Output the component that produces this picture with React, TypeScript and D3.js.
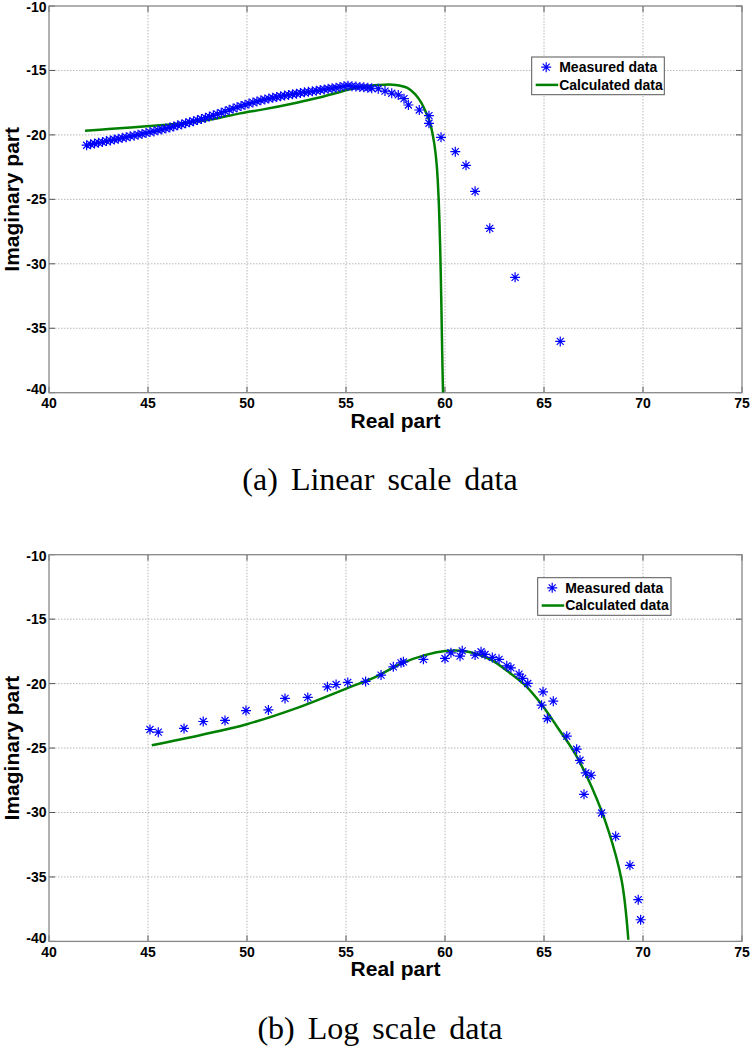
import React from 'react';
import * as d3 from 'd3';

const xTicks = [40, 45, 50, 55, 60, 65, 70, 75];
const yTicks = [-10, -15, -20, -25, -30, -35, -40];
const legendLabels = ['Measured data', 'Calculated data'];
const captions = ['(a) Linear scale data', '(b) Log scale data'];
const xLabel = 'Real part';
const yLabel = 'Imaginary part';

// (a) Linear scale data
const measuredLinX = [
  41.9, 42.1, 42.3, 42.5, 42.7, 42.9, 43.1, 43.3, 43.5, 43.7, 43.9, 44.1, 44.3, 44.5, 44.7, 44.9,
  45.1, 45.3, 45.5, 45.7, 45.9, 46.1, 46.3, 46.5, 46.7, 46.9, 47.1, 47.3, 47.5, 47.7, 47.9, 48.1,
  48.3, 48.5, 48.7, 48.9, 49.1, 49.3, 49.5, 49.7, 49.9, 50.1, 50.3, 50.5, 50.7, 50.9, 51.1, 51.3,
  51.5, 51.7, 51.9, 52.1, 52.3, 52.5, 52.7, 52.9, 53.1, 53.3, 53.5, 53.7, 53.9, 54.1, 54.3, 54.5,
  54.7, 54.9, 55.1, 55.3, 55.5, 55.7, 55.9, 56.1, 56.3, 56.63, 56.97, 57.31, 57.64, 57.93, 58.15,
  58.7, 59.19, 59.19, 59.8, 60.52, 61.06, 61.52, 62.26, 63.54, 65.82,
];
const measuredLinY = [
  -20.8, -20.73, -20.67, -20.6, -20.56, -20.48, -20.43, -20.36, -20.3, -20.23, -20.18, -20.1, -20.06, -19.98, -19.93, -19.86,
  -19.78, -19.73, -19.64, -19.58, -19.5, -19.43, -19.35, -19.26, -19.19, -19.1, -19.02, -18.94, -18.85, -18.77, -18.66, -18.58,
  -18.48, -18.39, -18.28, -18.18, -18.05, -17.96, -17.85, -17.76, -17.66, -17.57, -17.48, -17.41, -17.32, -17.25, -17.18, -17.12,
  -17.06, -17.0, -16.95, -16.9, -16.85, -16.8, -16.75, -16.7, -16.66, -16.62, -16.57, -16.52, -16.47, -16.42, -16.38, -16.34,
  -16.28, -16.22, -16.18, -16.22, -16.25, -16.28, -16.3, -16.34, -16.38, -16.42, -16.6, -16.77, -16.9, -17.19, -17.68,
  -18.07, -18.51, -19.1, -20.19, -21.3, -22.36, -24.38, -27.25, -31.05, -36.02,
];
const calcLinX = [41.82, 43.0, 44.93, 46.62, 48.3, 49.65, 50.82, 52.51, 53.6, 54.5, 55.3, 56.0, 56.6, 57.5, 58.1, 58.5, 58.8, 59.05, 59.25, 59.45, 59.58, 59.68, 59.76, 59.82, 59.86, 59.9];
const calcLinY = [-19.67, -19.55, -19.33, -19.12, -18.77, -18.33, -18.02, -17.5, -17.12, -16.75, -16.42, -16.22, -16.13, -16.12, -16.35, -16.85, -17.5, -18.3, -19.1, -20.6, -22.3, -25.0, -29.0, -33.5, -37.0, -40.0];

// (b) Log scale data
const measuredLogX = [
  45.1, 45.52, 46.82, 47.79, 48.89, 49.95, 51.08, 51.92, 53.07, 54.06, 54.5, 55.09, 55.99, 56.77, 57.39, 57.78,
  57.9, 58.91, 60.0, 60.3, 60.76, 60.87, 61.52, 61.82, 62.02, 62.39, 62.73, 63.12, 63.33, 63.74, 63.92, 64.18,
  64.95, 64.88, 65.47, 65.17, 66.15, 66.65, 66.82, 67.11, 67.38, 67.02, 67.91, 68.62, 69.34, 69.76, 69.88,
];
const measuredLogY = [
  -23.56, -23.77, -23.48, -22.94, -22.86, -22.09, -22.04, -21.15, -21.07, -20.25, -20.07, -19.91, -19.83, -19.34, -18.7, -18.39,
  -18.31, -18.12, -18.05, -17.61, -17.87, -17.46, -17.79, -17.53, -17.74, -17.97, -18.12, -18.62, -18.78, -19.26, -19.6, -19.99,
  -20.64, -21.67, -21.36, -22.71, -24.08, -25.09, -25.95, -26.93, -27.11, -28.59, -30.04, -31.85, -34.1, -36.76, -38.32,
];
const calcLogX = [45.19, 47.63, 49.99, 52.68, 55.04, 56.47, 57.81, 58.99, 60.0, 60.84, 61.52, 62.36, 63.2, 64.04, 64.88, 65.72, 66.57, 67.41, 68.25, 68.92, 69.26];
const calcLogY = [-24.78, -24.0, -23.15, -21.8, -20.37, -19.5, -18.43, -17.79, -17.48, -17.45, -17.66, -18.18, -19.09, -20.12, -21.62, -23.48, -25.43, -28.02, -31.38, -35.26, -39.87];

const SANS = '"Liberation Sans", Arial, Helvetica, sans-serif';
const SERIF = '"Liberation Serif", "Times New Roman", serif';
const BLUE = '#0000ff';
const GREEN = '#008000';
const STAR = 'M0,-5V5M-5,0H5M-3.5,-3.5L3.5,3.5M-3.5,3.5L3.5,-3.5';

type PanelProps = {
  off: number;
  mx: number[];
  my: number[];
  cx: number[];
  cy: number[];
  caption: string;
  legend: { x: number; y: number; w: number; h: number };
  id: string;
};

function Panel({ off, mx, my, cx, cy, caption, legend, id }: PanelProps) {
  const x = d3.scaleLinear().domain([40, 75]).range([49, 742]);
  const y = d3.scaleLinear().domain([-10, -40]).range([off + 6, off + 392.7]);
  const [x0, x1] = x.range();
  const [y0, y1] = y.range();
  const calc = cx.map((v, i) => [v, cy[i]] as [number, number]);
  const line = d3
    .line<[number, number]>()
    .x((d) => x(d[0]))
    .y((d) => y(d[1]))
    .curve(d3.curveCatmullRom.alpha(0.5));
  const lg = legend;
  const row1 = lg.y + lg.h * 0.27;
  const row2 = lg.y + lg.h * 0.74;
  const yLabelShift = (t: number) => (t === -40 ? -3.5 : t === -10 ? 1.5 : 0);
  return (
    <g>
      <defs>
        <clipPath id={id}>
          <rect x={x0} y={y0} width={x1 - x0} height={y1 - y0} />
        </clipPath>
      </defs>
      <rect x={x0} y={y0} width={x1 - x0} height={y1 - y0} fill="#fff" />
      {xTicks.slice(1, -1).map((t) => (
        <line key={'gx' + t} x1={x(t)} x2={x(t)} y1={y0} y2={y1} stroke="#b8b8b8" strokeWidth={1} strokeDasharray="1.5,1.5" />
      ))}
      {yTicks.slice(1, -1).map((t) => (
        <line key={'gy' + t} x1={x0} x2={x1} y1={y(t)} y2={y(t)} stroke="#b8b8b8" strokeWidth={1} strokeDasharray="1.5,1.5" />
      ))}
      {xTicks.map((t) => (
        <g key={'tx' + t}>
          <line x1={x(t)} x2={x(t)} y1={y1} y2={y1 - 6} stroke="#555" strokeWidth={1} />
          <line x1={x(t)} x2={x(t)} y1={y0} y2={y0 + 6} stroke="#555" strokeWidth={1} />
          <text x={x(t)} y={y1 + 15.5} textAnchor="middle" fontFamily={SANS} fontWeight="bold" fontSize={14} fill="#000">
            {t}
          </text>
        </g>
      ))}
      {yTicks.map((t) => (
        <g key={'ty' + t}>
          <line x1={x0} x2={x0 + 6} y1={y(t)} y2={y(t)} stroke="#555" strokeWidth={1} />
          <line x1={x1} x2={x1 - 6} y1={y(t)} y2={y(t)} stroke="#555" strokeWidth={1} />
          <text x={46.5} y={y(t) + yLabelShift(t)} dy="0.35em" textAnchor="end" fontFamily={SANS} fontWeight="bold" fontSize={14} fill="#000">
            {t}
          </text>
        </g>
      ))}
      <rect x={x0} y={y0} width={x1 - x0} height={y1 - y0} fill="none" stroke="#888" strokeWidth={1.3} />
      <path d={line(calc) || ''} fill="none" stroke={GREEN} strokeWidth={2.5} clipPath={`url(#${id})`} />
      {mx.map((v, i) => (
        <path key={'m' + i} d={STAR} transform={`translate(${x(v)},${y(my[i])})`} stroke={BLUE} strokeWidth={1.2} fill="none" />
      ))}
      <text x={(x0 + x1) / 2} y={y1 + 35} textAnchor="middle" fontFamily={SANS} fontWeight="bold" fontSize={21} fill="#000">
        {xLabel}
      </text>
      <text
        transform={`translate(12,${(y0 + y1) / 2}) rotate(-90)`}
        textAnchor="middle"
        dy="0.35em"
        fontFamily={SANS}
        fontWeight="bold"
        fontSize={21}
        fill="#000"
      >
        {yLabel}
      </text>
      <rect x={lg.x} y={lg.y} width={lg.w} height={lg.h} fill="#fff" stroke="#555" strokeWidth={1} />
      <path d={STAR} transform={`translate(${lg.x + 14.5},${row1})`} stroke={BLUE} strokeWidth={1.2} fill="none" />
      <text x={lg.x + 27.5} y={row1} dy="0.35em" fontFamily={SANS} fontWeight="bold" fontSize={14} fill="#000">
        {legendLabels[0]}
      </text>
      <line x1={lg.x + 4} x2={lg.x + 26.5} y1={row2} y2={row2} stroke={GREEN} strokeWidth={2.5} />
      <text x={lg.x + 27.5} y={row2} dy="0.35em" fontFamily={SANS} fontWeight="bold" fontSize={14} fill="#000">
        {legendLabels[1]}
      </text>
      <text x={380} y={off + 490} textAnchor="middle" fontFamily={SERIF} fontSize={32} wordSpacing={5} fill="#000">
        {caption}
      </text>
    </g>
  );
}

export default function App() {
  const off2 = 548.7;
  return (
    <svg width={750} height={1050} style={{ position: 'absolute', left: 0, top: 0, background: '#fff' }}>
      <rect x={0} y={0} width={750} height={1050} fill="#fff" />
      <Panel
        id="clipA"
        off={0}
        mx={measuredLinX}
        my={measuredLinY}
        cx={calcLinX}
        cy={calcLinY}
        caption={captions[0]}
        legend={{ x: 531.7, y: 57, w: 132.6, h: 37.7 }}
      />
      <Panel
        id="clipB"
        off={off2}
        mx={measuredLogX}
        my={measuredLogY}
        cx={calcLogX}
        cy={calcLogY}
        caption={captions[1]}
        legend={{ x: 537.7, y: off2 + 29, w: 133.3, h: 37.6 }}
      />
    </svg>
  );
}
